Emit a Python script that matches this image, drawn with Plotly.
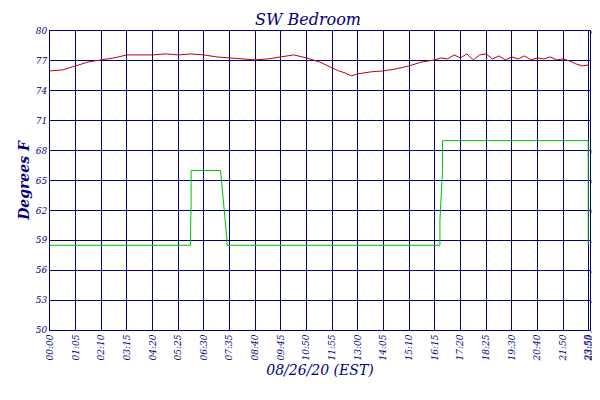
import plotly.graph_objects as go

# x positions are sample slots (one tick label every slot)
tick_slots = list(range(21)) + [20.99, 21.03]
tick_labels = ["00:00", "01:05", "02:10", "03:15", "04:20", "05:25", "06:30", "07:35",
               "08:40", "09:45", "10:50", "11:55", "13:00", "14:05", "15:10", "16:15",
               "17:20", "18:25", "19:30", "20:40", "21:50", "23:55", "23:59"]

temp_x = [0, 0.5, 1, 1.5, 2, 2.5, 3, 3.5, 4, 4.5, 5, 5.5, 6, 6.5, 7, 7.5, 8, 8.5, 9, 9.5,
          10, 10.5, 11, 11.25, 11.5, 11.75, 12, 12.5, 13, 13.5, 14, 14.5, 15, 15.25, 15.5,
          15.75, 16, 16.25, 16.5, 16.75, 17, 17.25, 17.5, 17.75, 18, 18.25, 18.5, 18.75,
          19, 19.25, 19.5, 19.75, 20, 20.25, 20.5, 20.75, 21.0]
temp_y = [76.0, 76.1, 76.5, 76.9, 77.1, 77.3, 77.6, 77.6, 77.6, 77.7, 77.6, 77.7, 77.6,
          77.4, 77.3, 77.2, 77.1, 77.2, 77.4, 77.6, 77.3, 76.9, 76.3, 76.0, 75.8, 75.5,
          75.7, 75.9, 76.0, 76.2, 76.5, 76.9, 77.1, 77.3, 77.2, 77.6, 77.3, 77.7, 77.1,
          77.6, 77.7, 77.2, 77.5, 77.1, 77.4, 77.2, 77.5, 77.1, 77.3, 77.2, 77.4, 77.1,
          77.2, 77.0, 76.7, 76.5, 76.6]

setback_x = [0, 5.48, 5.48, 5.5, 5.5, 6.65, 6.65, 6.9, 6.9, 15.2, 15.2, 15.3, 15.3, 20.98, 20.98]
setback_y = [58.5, 58.5, 60.5, 62.5, 66, 66, 66, 59, 58.5, 58.5, 61, 66, 69, 69, 58.5]

navy = "#000080"
font = dict(family="DejaVu Serif", color=navy, style="italic")

fig = go.Figure()
fig.add_trace(go.Scatter(x=temp_x, y=temp_y, mode="lines", name="SW Bedroom",
                         line=dict(color="#c00000", width=1)))
fig.add_trace(go.Scatter(x=setback_x, y=setback_y, mode="lines", name="Setback",
                         line=dict(color="#00c000", width=1)))
# invisible trace for right axis labels
fig.add_trace(go.Scatter(x=[0], y=[50], yaxis="y2", showlegend=False,
                         mode="markers", marker=dict(opacity=0)))

yticks = list(range(50, 81, 3))
fig.update_layout(
    width=600, height=400,
    margin=dict(l=42, r=18, t=23, b=78, autoexpand=False),
    paper_bgcolor="white", plot_bgcolor="white",
    title=dict(text="SW Bedroom", x=0.5, y=0.985, xanchor="center",
               font=dict(size=16, **font)),
    xaxis=dict(range=[0, 21.05], tickvals=tick_slots, ticktext=tick_labels,
               tickangle=-90, tickfont=dict(size=9, **font), automargin=False,
               showgrid=True, gridcolor=navy, gridwidth=1,
               showline=True, linecolor=navy, mirror=True, zeroline=False,
               title=dict(text="08/26/20 (EST)", font=dict(size=14, **font),
                          standoff=4)),
    yaxis=dict(range=[50, 80], tickvals=yticks, tickfont=dict(size=9, **font),
               showgrid=True, gridcolor=navy, gridwidth=1, automargin=False,
               showline=True, linecolor=navy, mirror=True, zeroline=False,
               title=dict(text="<b>Degrees F</b>", font=dict(size=14, **font),
                          standoff=2)),
    yaxis2=dict(range=[50, 80], tickvals=yticks, overlaying="y", side="right",
                tickfont=dict(size=9, **font), showgrid=False, zeroline=False,
                automargin=False),
    legend=dict(orientation="h", x=0.5, xanchor="center", y=-0.2, yanchor="top",
                font=dict(size=11, **font), itemwidth=30),
)
fig.write_html("out.html")
